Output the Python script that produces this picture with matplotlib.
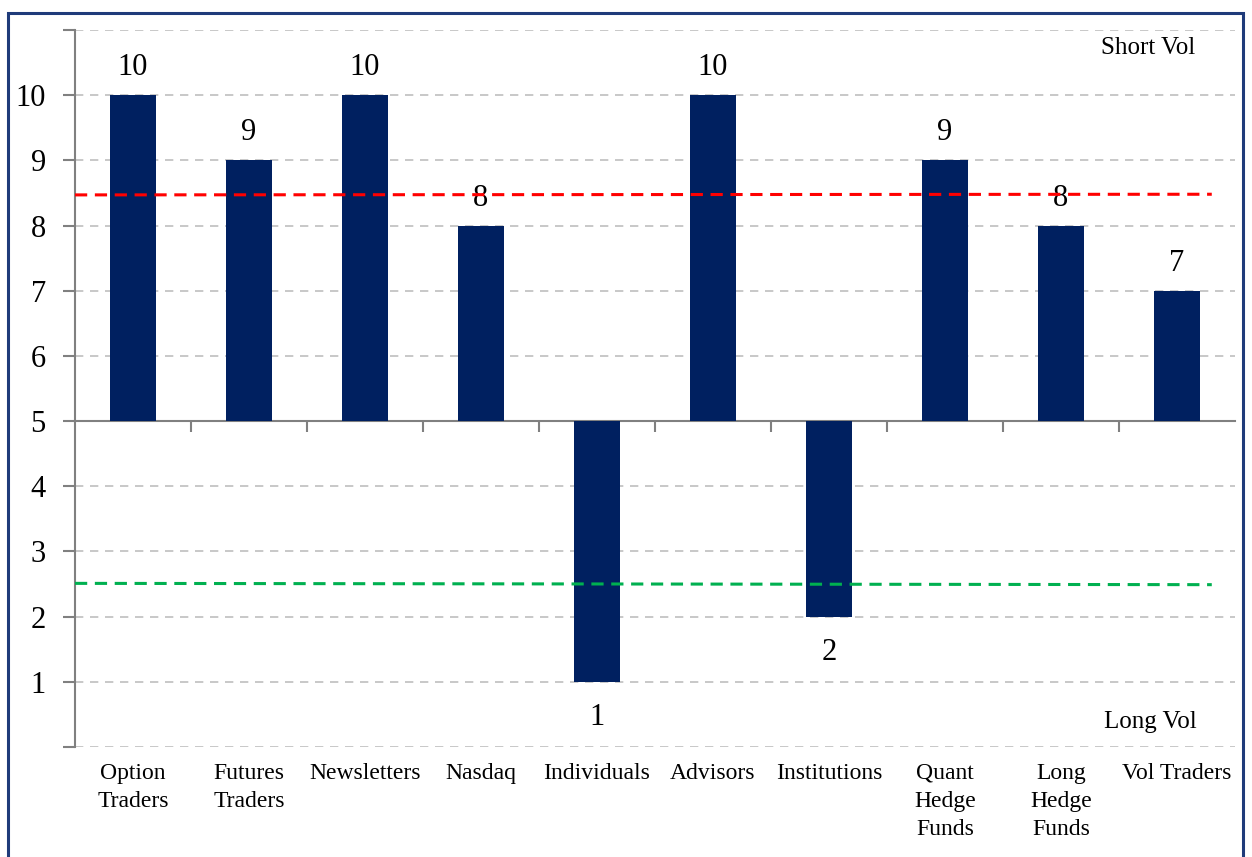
import matplotlib.pyplot as plt
from matplotlib.patches import Rectangle

# datos
groups = ['Option\nTraders', 'Futures\nTraders', 'Newsletters', 'Nasdaq', 'Individuals',
          'Advisors', 'Institutions', 'Quant\nHedge\nFunds', 'Long\nHedge\nFunds', 'Vol Traders']
scores = [10, 9, 10, 8, 1, 10, 2, 9, 8, 7]
short_avg = [8.47, 8.48]   # linea roja (inicio, fin)
long_avg = [2.51, 2.49]    # linea verde (inicio, fin)
base = 5

plt.rcParams['font.family'] = ['Liberation Serif', 'DejaVu Serif']

fig = plt.figure(figsize=(12.52, 8.57), dpi=100)
ax = fig.add_axes([0.0599, 0.1284, 0.9265, 0.8366])

x = list(range(len(groups)))
heights = [v - base for v in scores]
ax.bar(x, heights, bottom=base, width=0.4, color='#002060', zorder=3)

# etiquetas de valor
for xi, v in zip(x, scores):
    if v >= base:
        ax.text(xi, v + 0.42, str(v), ha='center', va='center', fontsize=22, zorder=4)
    else:
        ax.text(xi, v - 0.55, str(v), ha='center', va='center', fontsize=22, zorder=4)

# promedios
ax.plot([-0.5, 9.3], short_avg, color='#ff0000', linestyle=(0, (4, 2.5)), linewidth=2.2, zorder=5)
ax.plot([-0.5, 9.3], long_avg, color='#00b050', linestyle=(0, (4, 2.5)), linewidth=2.2, zorder=5)

ax.set_xlim(-0.5, 9.5)
ax.set_ylim(0, 11)
ax.set_yticks(range(0, 12))
ax.set_yticklabels([''] + [str(i) for i in range(1, 11)] + [''])
ax.grid(axis='y', color='#bfbfbf', linestyle=(0, (5, 4)), linewidth=1.2, zorder=0)
ax.tick_params(axis='y', direction='out', length=9, width=1.5, color='#808080', labelsize=22, pad=12)

ax.spines['top'].set_visible(False)
ax.spines['right'].set_visible(False)
ax.spines['left'].set_color('#808080')
ax.spines['left'].set_linewidth(1.5)
ax.spines['bottom'].set_position(('data', base))
ax.spines['bottom'].set_color('#808080')
ax.spines['bottom'].set_linewidth(1.5)
ax.set_xticks([i - 0.5 for i in range(1, len(groups))])
ax.set_xticklabels([])
ax.tick_params(axis='x', direction='out', length=8, width=1.5, color='#808080')

# etiquetas de categoria
for xi, g in zip(x, groups):
    ax.text(xi, -0.022, g, transform=ax.get_xaxis_transform(), ha='center', va='top',
            fontsize=17, linespacing=1.45)

ax.text(8.75, 10.72, 'Short Vol', ha='center', va='center', fontsize=18)
ax.text(8.77, 0.38, 'Long Vol', ha='center', va='center', fontsize=18)

# marco
fig.patches.append(Rectangle((8 / 1252, -0.01), 1235 / 1252, 1 - 13 / 857 + 0.01,
                             transform=fig.transFigure, fill=False,
                             edgecolor='#1f3b7a', linewidth=2.2))

fig.savefig('out.png', dpi=100)
